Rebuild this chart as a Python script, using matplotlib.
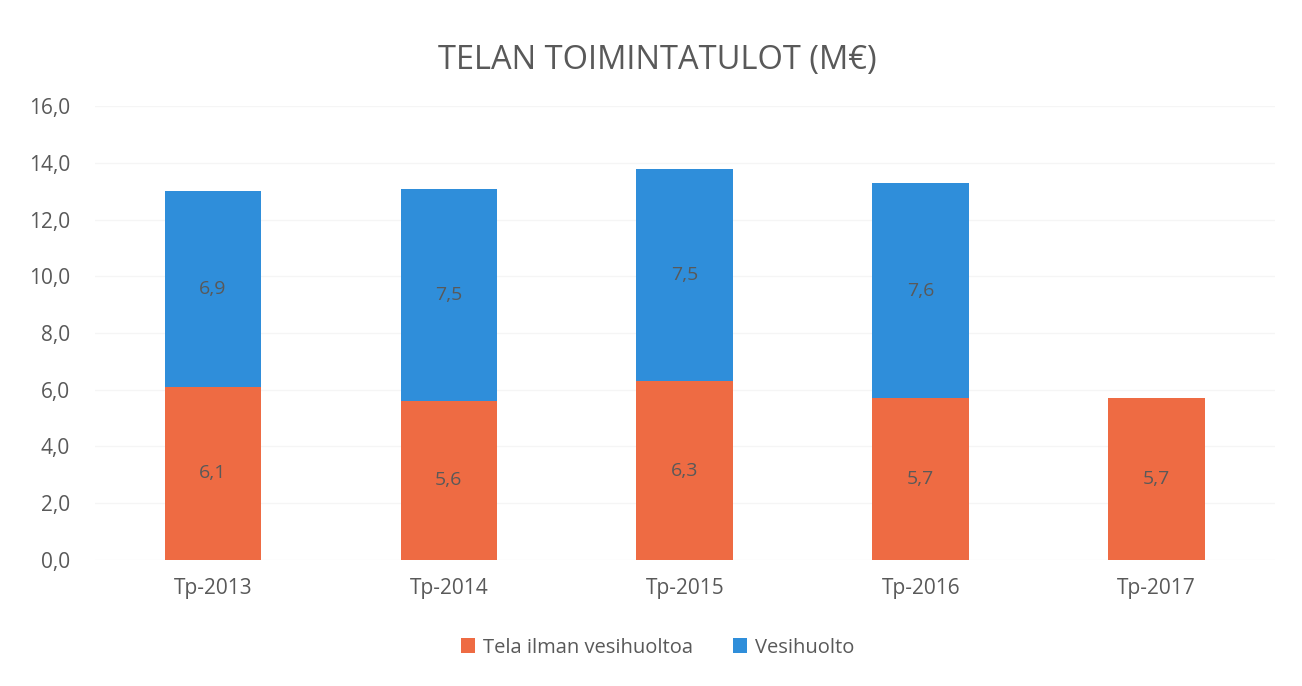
import matplotlib
matplotlib.use("Agg")
import matplotlib.pyplot as plt
import numpy as np

categories = ["Tp-2013", "Tp-2014", "Tp-2015", "Tp-2016", "Tp-2017"]
tela = [6.1, 5.6, 6.3, 5.7, 5.7]
vesi = [6.9, 7.5, 7.5, 7.6, 0.0]
series_names = ["Tela ilman vesihuoltoa", "Vesihuolto"]
title = "TELAN TOIMINTATULOT (M€)"
yticks = [0, 2, 4, 6, 8, 10, 12, 14, 16]

plt.rcParams['font.family'] = ['Open Sans', 'DejaVu Sans']
c_or = '#EE6B43'
c_bl = '#2F8EDA'
txt = '#595959'

fig = plt.figure(figsize=(13.02, 6.86), dpi=100)
ax = fig.add_axes([0.073, 0.184, 0.906, 0.661])
x = np.arange(len(categories))
w = 0.41
b1 = ax.bar(x, tela, w, color=c_or, label=series_names[0], zorder=2)
b2 = ax.bar(x, vesi, w, bottom=tela, color=c_bl, label=series_names[1], zorder=2)
for i in range(len(x)):
    ax.text(x[i], tela[i] / 2, f"{tela[i]:.1f}".replace('.', ','), ha='center', va='center',
            fontsize=14, color=txt, zorder=3)
    if vesi[i] > 0:
        ax.text(x[i], tela[i] + vesi[i] / 2, f"{vesi[i]:.1f}".replace('.', ','), ha='center',
                va='center', fontsize=14, color=txt, zorder=3)

ax.set_xlim(-0.5, len(categories) - 0.5)
ax.set_ylim(0, 16)
ax.set_yticks(yticks)
ax.set_yticklabels([f"{v:.1f}".replace('.', ',') for v in yticks])
ax.set_xticks(x)
ax.set_xticklabels(categories)
ax.tick_params(axis='both', length=0, labelsize=15, colors=txt)
ax.tick_params(axis='x', pad=13)
ax.tick_params(axis='y', pad=18)
ax.yaxis.grid(True, color='#F5F5F5', linewidth=1, zorder=0)
for s in ax.spines.values():
    s.set_visible(False)

fig.text(0.505, 0.912, title, ha='center', va='center', fontsize=23.5, color=txt)
fig.legend(handles=[b1, b2], labels=series_names, loc='center', bbox_to_anchor=(0.505, 0.056),
           ncol=2, frameon=False, fontsize=14.5, handlelength=0.7, handleheight=0.7,
           handletextpad=0.4, columnspacing=2.0, labelcolor=txt)
fig.savefig("out.png", dpi=100, facecolor='white')
